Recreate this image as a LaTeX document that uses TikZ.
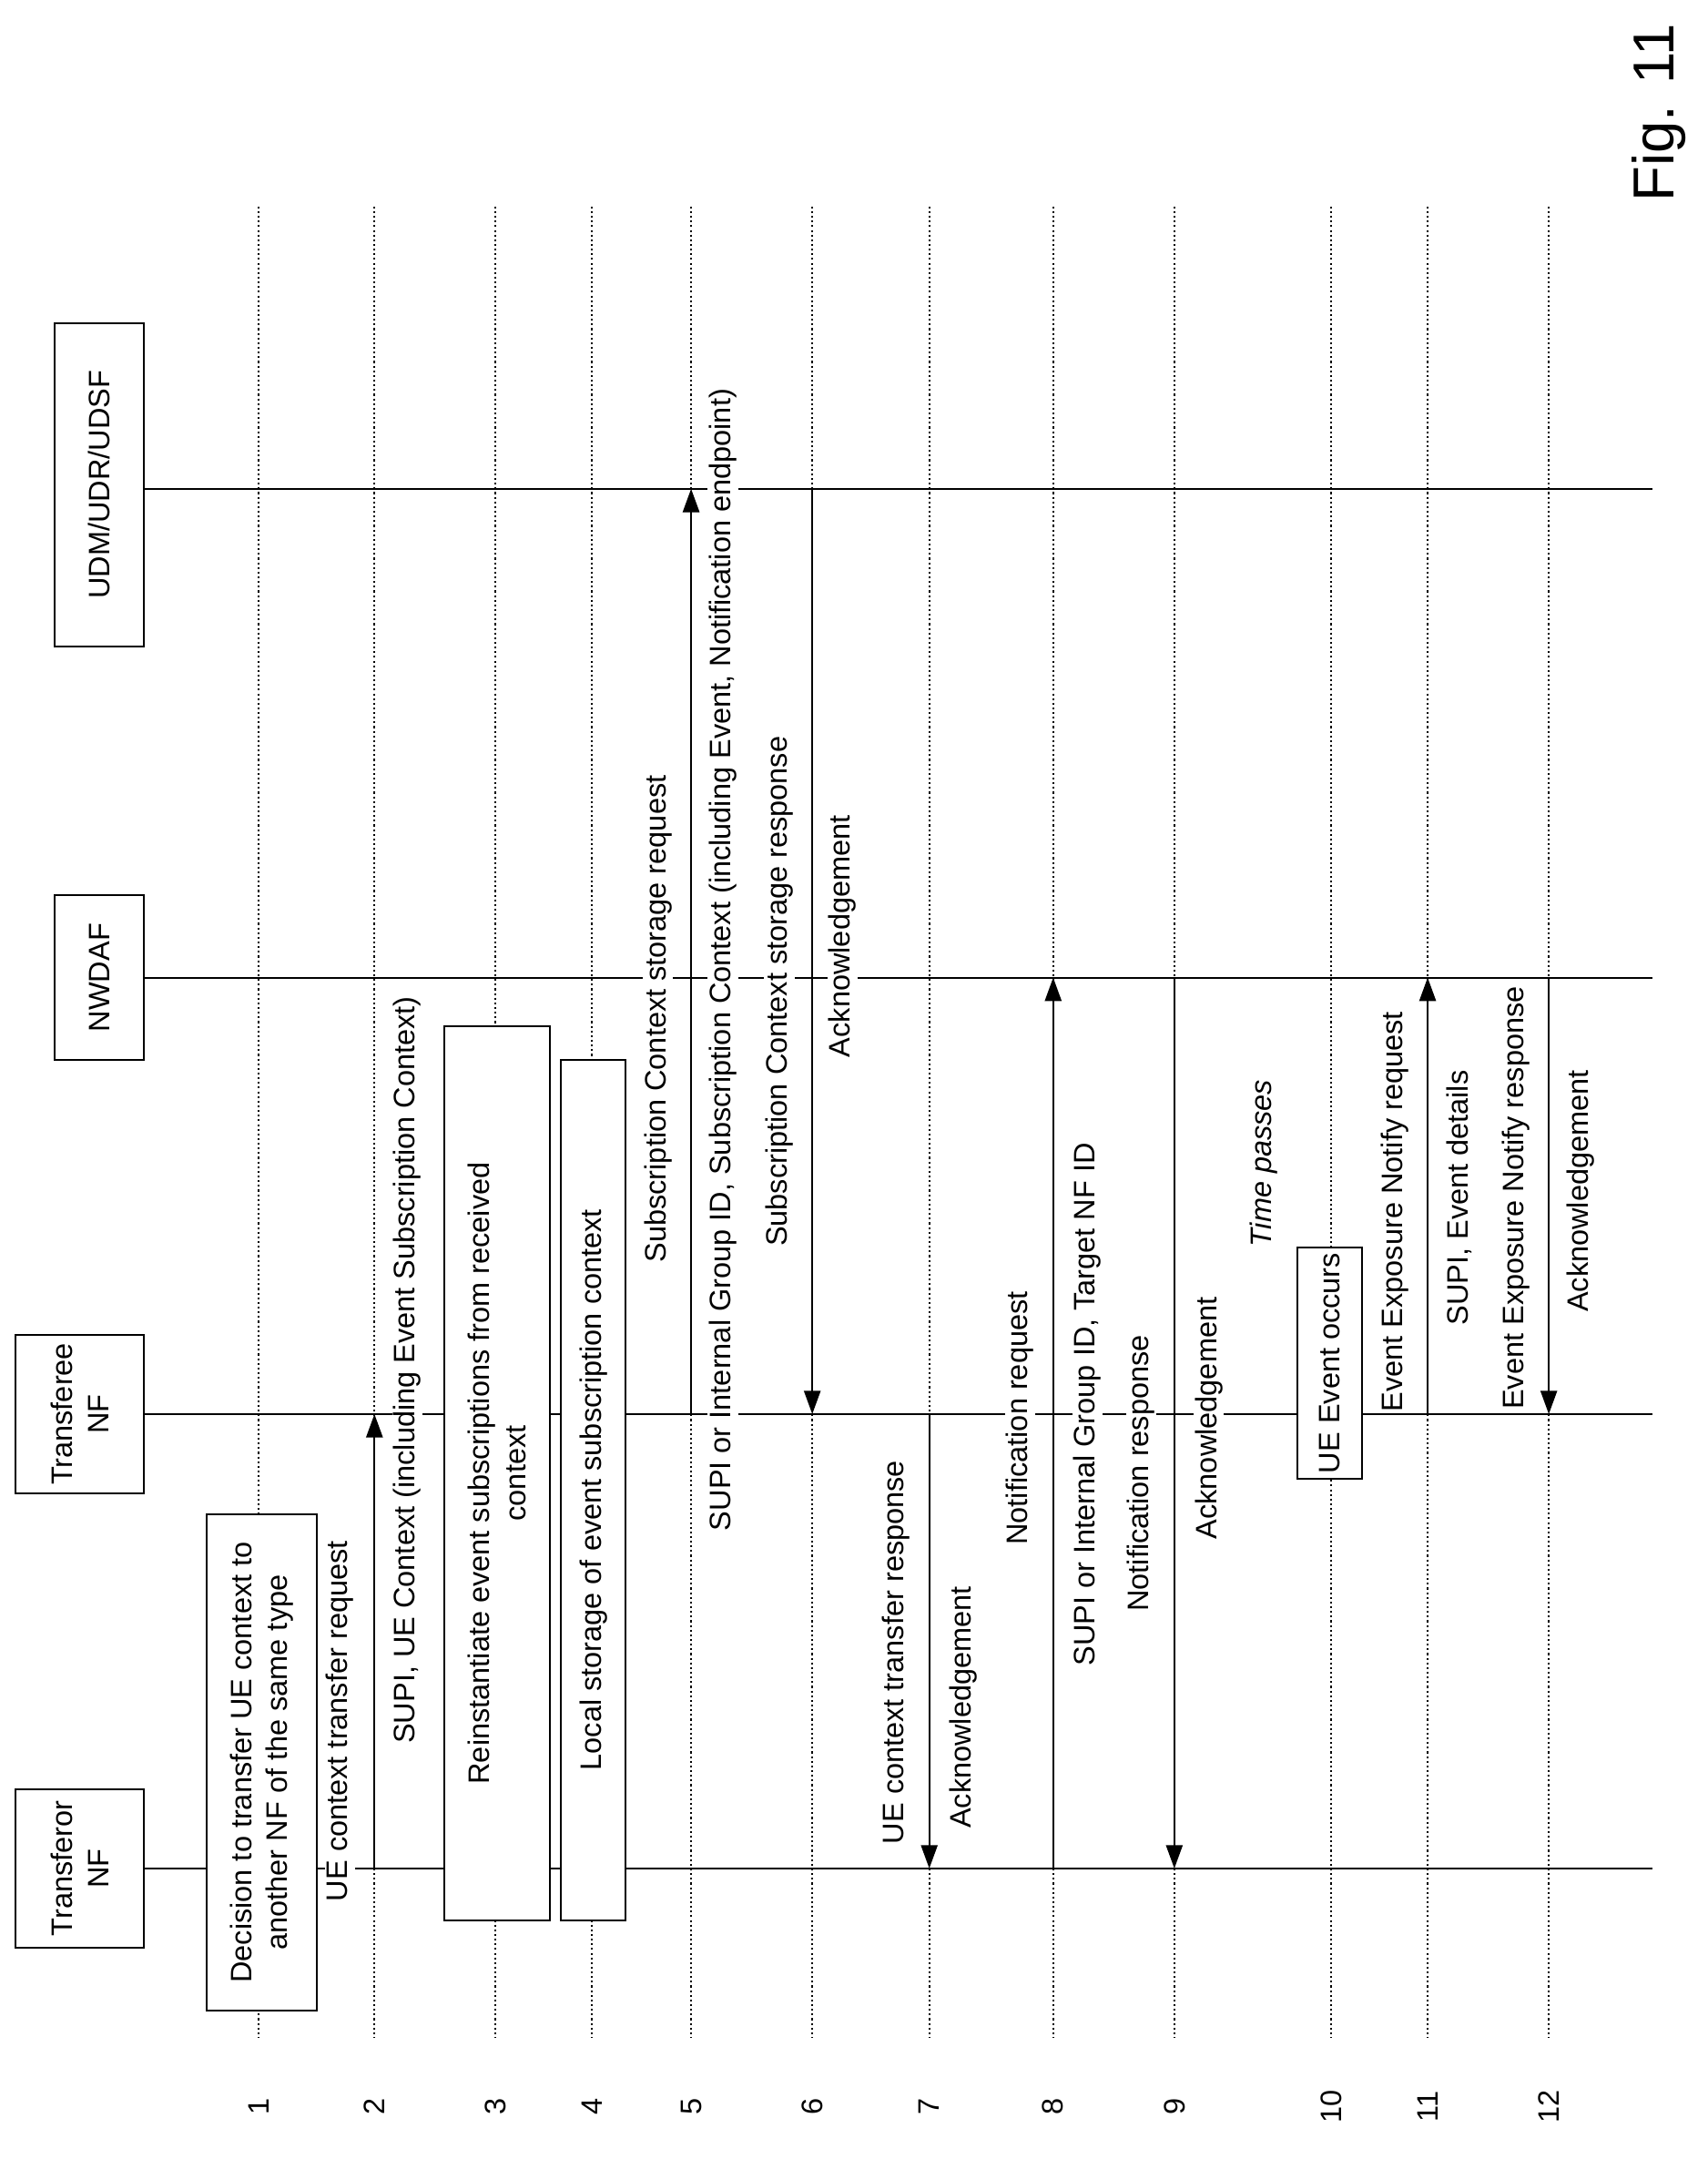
\documentclass[tikz,border=0pt]{standalone}
\usepackage{fontspec}
\setmainfont{Liberation Sans}
\usetikzlibrary{arrows.meta}
\begin{document}
\begin{tikzpicture}[x=1pt,y=-1pt,
  font=\fontsize{21.5}{26}\selectfont,
  life/.style={line width=1.3pt},
  stepline/.style={line width=1.4pt,dotted},
  msg/.style={line width=1.4pt,-{Triangle[length=17pt,width=12pt]}},
  lbl/.style={rotate=90,fill=white,inner sep=1pt},
  box/.style={draw,line width=1.3pt,rotate=90,fill=white,align=center,inner sep=4pt},
  hd/.style={draw,line width=1.3pt,rotate=90,align=center,fill=white}]
\useasboundingbox (0,0) rectangle (1240,1568);
% step lines
\foreach \x/\n in {188/1,272/2,360/3,430/4,502/5,590/6,675/7,765/8,853/9,967/10,1037/11,1125/12}{
  \draw[stepline] (\x,150) -- (\x,1480);
  \node[rotate=90] (n\n) at (\x,1530) {\n};
}
% lifelines
\foreach \y/\nm in {1357/tor,1027/tee,710/nw,355/udm}{
  \coordinate (\nm0) at (105,\y);
  \coordinate (\nm1) at (1200,\y);
  \draw[life] (\nm0) -- (\nm1);
}
\node[hd,minimum width=115pt,minimum height=93pt] (h1) at (58,1357) {Transferor\\NF};
\node[hd,minimum width=115pt,minimum height=93pt] (h2) at (58,1027) {Transferee\\NF};
\node[hd,minimum width=120pt,minimum height=65pt] (h3) at (72,710) {NWDAF};
\node[hd,minimum width=235pt,minimum height=65pt] (h4) at (72,352) {UDM/UDR/UDSF};
% step 1
\node[box,minimum width=360pt,minimum height=80pt] (b1) at (190,1280) {Decision to transfer UE context to\\another NF of the same type};
% coordinates
\foreach \x in {272,502,590,675,765,853,1037,1125}{
  \coordinate (tor\x) at (\x,1357);
  \coordinate (tee\x) at (\x,1027);
  \coordinate (nw\x) at (\x,710);
  \coordinate (udm\x) at (\x,355);
}
% step 2
\draw[msg] (tor272) -- (tee272);
\node[lbl] (l2a) at (247,1250) {UE context transfer request};
\node[lbl] (l2b) at (296,995) {SUPI, UE Context (including Event Subscription Context)};
% steps 3,4
\node[box,minimum width=650pt,minimum height=77pt] (b3) at (361,1070) {Reinstantiate event subscriptions from received\\context};
\node[box,minimum width=625pt,minimum height=47pt] (b4) at (431,1082) {Local storage of event subscription context};
% step 5
\draw[msg] (tee502) -- (udm502);
\node[lbl] (l5a) at (478,740) {Subscription Context storage request};
\node[lbl] (l5b) at (525,697) {SUPI or Internal Group ID, Subscription Context (including Event, Notification endpoint)};
% step 6
\draw[msg] (udm590) -- (tee590);
\node[lbl] (l6a) at (566,720) {Subscription Context storage response};
\node[lbl] (l6b) at (612,680) {Acknowledgement};
% step 7
\draw[msg] (tee675) -- (tor675);
\node[lbl] (l7a) at (651,1200) {UE context transfer response};
\node[lbl] (l7b) at (700,1240) {Acknowledgement};
% step 8
\draw[msg] (tor765) -- (nw765);
\node[lbl] (l8a) at (741,1030) {Notification request};
\node[lbl] (l8b) at (790,1020) {SUPI or Internal Group ID, Target NF ID};
% step 9
\draw[msg] (nw853) -- (tor853);
\node[lbl] (l9a) at (829,1070) {Notification response};
\node[lbl] (l9b) at (878,1030) {Acknowledgement};
\node[lbl,font=\fontsize{21.5}{26}\selectfont\itshape] (tp) at (918,845) {Time passes};
% step 10
\node[box,minimum width=142pt,minimum height=47pt] (b10) at (966,990) {UE Event occurs};
% step 11
\draw[msg] (tee1037) -- (nw1037);
\node[lbl] (l11a) at (1013,880) {Event Exposure Notify request};
\node[lbl] (l11b) at (1060,870) {SUPI, Event details};
% step 12
\draw[msg] (nw1125) -- (tee1125);
\node[lbl] (l12a) at (1101,870) {Event Exposure Notify response};
\node[lbl] (l12b) at (1148,865) {Acknowledgement};
\node[rotate=90,font=\fontsize{42}{50}\selectfont] (fig) at (1205,82) {Fig. 11};
\end{tikzpicture}
\end{document}
